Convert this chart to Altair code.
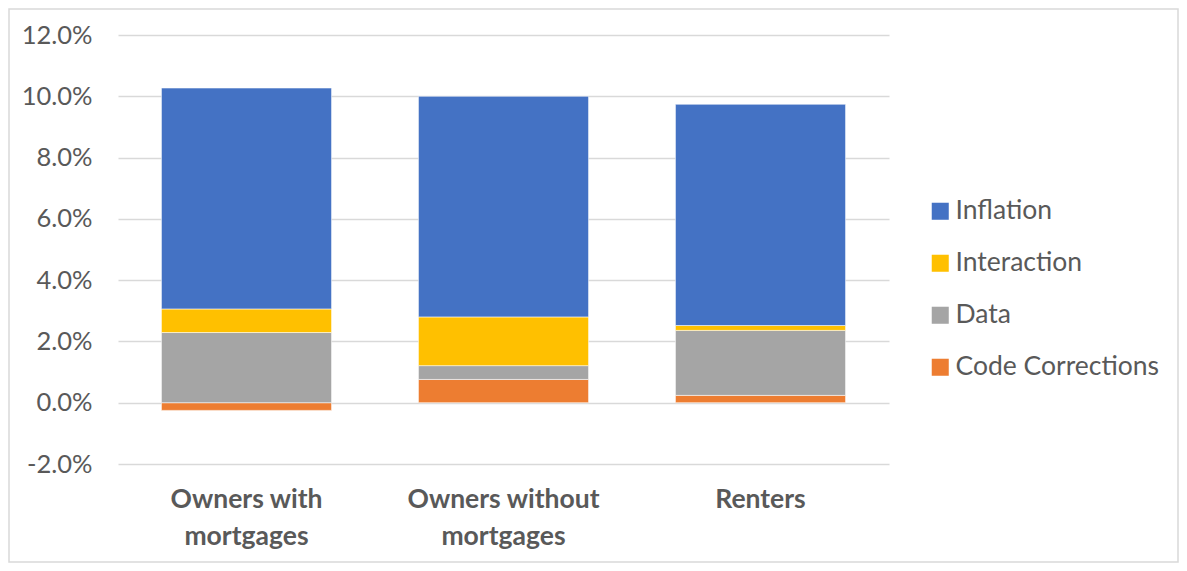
import altair as alt
import pandas as pd

categories = ["Owners with mortgages", "Owners without mortgages", "Renters"]
components = ["Code Corrections", "Data", "Interaction", "Inflation"]
code_corrections = [-0.25, 0.76, 0.24]
data_vals = [2.29, 0.45, 2.12]
interaction = [0.77, 1.59, 0.16]
inflation = [7.21, 7.20, 7.22]
colors = ["#ED7D31", "#A5A5A5", "#FFC000", "#4472C4"]
y_ticks = [-2, 0, 2, 4, 6, 8, 10, 12]

series = [code_corrections, data_vals, interaction, inflation]
rows = []
for ci, comp in enumerate(components):
    for k, cat in enumerate(categories):
        rows.append({"category": cat, "component": comp, "order": ci,
                     "value": series[ci][k] / 100})
df = pd.DataFrame(rows)

FONT = "Lato"

label_expr = ("datum.label == 'Owners with mortgages' ? ['Owners with', 'mortgages'] : "
              "datum.label == 'Owners without mortgages' ? ['Owners without', 'mortgages'] : datum.label")

bars = alt.Chart(df).mark_bar(stroke="white", strokeWidth=0.8, strokeOpacity=0.7).encode(
    x=alt.X("category:N", sort=categories, title=None,
            scale=alt.Scale(paddingInner=0.338, paddingOuter=0.169),
            axis=alt.Axis(labelAngle=0, labelExpr=label_expr, labelFont=FONT,
                          labelFontSize=26.5, labelFontWeight="bold", labelColor="#595959",
                          labelLineHeight=37, labelPadding=22, ticks=False, domain=False,
                          labelBaseline="top", labelLimit=0)),
    y=alt.Y("value:Q", stack="zero", title=None,
            scale=alt.Scale(domain=[-0.02, 0.12], nice=False, zero=False),
            axis=alt.Axis(values=[v / 100 for v in y_ticks],
                          labelExpr="replace(format(datum.value, '.1%'), '\u2212', '-')",
                          labelFont=FONT,
                          labelFontSize=25.5, labelColor="#595959", labelPadding=26,
                          ticks=False, domain=False, gridColor="#D9D9D9", gridWidth=1.3)),
    color=alt.Color("component:N", sort=components[::-1],
                    scale=alt.Scale(domain=components[::-1], range=colors[::-1]),
                    legend=alt.Legend(title=None, orient="none", legendX=809, legendY=163,
                                      symbolType="square", symbolSize=290, symbolStrokeWidth=0,
                                      labelFont=FONT, labelFontSize=26.5, labelColor="#595959",
                                      rowPadding=25, labelOffset=2, labelLimit=0)),
    order=alt.Order("order:Q", sort="ascending"),
)

border = alt.Chart(pd.DataFrame({"b": [0]})).mark_rect(
    fillOpacity=0, stroke="#D9D9D9", strokeWidth=1.5
).encode(x=alt.value(-109), x2=alt.value(1060), y=alt.value(-26), y2=alt.value(527))

chart = alt.layer(bars, border).properties(
    width=771, height=429,
    padding={"left": 110, "top": 27, "right": 290, "bottom": 99},
    autosize=alt.AutoSizeParams(type="none"),
    background="white",
).configure_view(stroke=None)

chart.save("out.html", embed_options={"renderer": "svg", "actions": False})
